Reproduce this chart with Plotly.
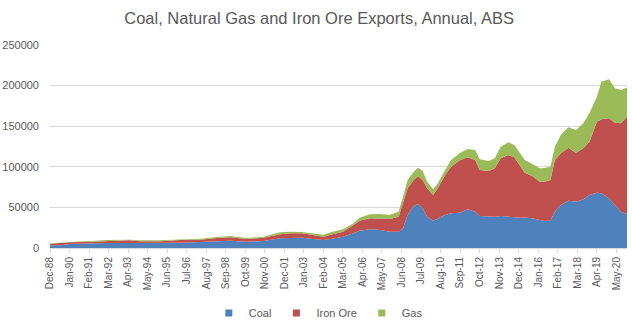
import pandas as pd
import plotly.graph_objects as go

# ---- data ----
months = ["1988-12", "1989-07", "1990-01", "1991-03", "1992-02", "1993-05", "1993-12",
          "1995-01", "1996-03", "1997-04", "1998-03", "1998-12", "1999-11", "2000-10",
          "2001-09", "2002-04", "2002-12", "2003-07", "2004-02", "2004-08", "2005-03",
          "2005-10", "2006-02", "2006-09", "2007-04", "2007-10", "2008-04", "2008-07",
          "2008-10", "2009-02", "2009-05", "2009-08", "2009-11", "2010-03", "2010-06",
          "2010-11", "2011-03", "2011-09", "2012-02", "2012-07", "2012-10", "2013-04",
          "2013-08", "2013-12", "2014-05", "2014-09", "2015-01", "2015-04", "2015-09",
          "2016-02", "2016-05", "2016-09", "2016-12", "2017-04", "2017-09", "2018-02",
          "2018-07", "2018-11", "2019-04", "2019-07", "2019-12", "2020-04", "2020-08",
          "2020-12"]

coal = [3300, 3300, 4900, 5800, 6100, 6100, 6100, 5800, 6500, 7400, 8200, 9000, 7800, 8600,
        11900, 12700, 12700, 11100, 9800, 11500, 13900, 18100, 21300, 23000, 22200, 20100,
        20100, 24200, 40600, 51700, 54200, 48900, 38500, 33600, 36600, 40600, 42700, 43500,
        47600, 44700, 39400, 38500, 38500, 39400, 38500, 37300, 37300, 37700, 36600, 34500,
        33200, 33600, 44700, 52900, 58200, 57000, 59900, 65200, 68100, 67300, 61200, 52900,
        44700, 41900]

iron_ore = [2000, 3200, 2100, 2000, 2500, 3300, 2100, 2400, 3300, 2800, 4100, 4100, 3300, 4100,
            4900, 5400, 5400, 4500, 4100, 5300, 6200, 10200, 12300, 13600, 14400, 15600,
            18400, 30800, 32900, 32000, 34400, 34800, 35000, 31600, 36900, 49300, 57300, 64800,
            64100, 63600, 56600, 56300, 59600, 71000, 76000, 74400, 62800, 55000, 52000, 47100,
            48400, 50100, 63600, 63700, 65300, 60300, 62800, 65700, 87500, 91200, 98500,
            101400, 108800, 119700]

gas = [100, 200, 400, 800, 1200, 800, 1200, 1200, 900, 1300, 1200, 1700, 1200, 1200,
       2500, 2000, 1600, 2500, 2500, 3300, 2900, 2100, 3700, 4900, 5300, 4900,
       6200, 8200, 10200, 10200, 10200, 11400, 8100, 7000, 6000, 6100, 8300, 9000,
       10200, 12300, 13200, 12300, 12300, 14400, 15700, 15100, 16500, 15600, 14800, 16500,
       16900, 16400, 16500, 22500, 25100, 28000, 30800, 34900, 30700, 46200, 48000, 42300,
       41000, 36200]

tick_labels = ["Dec-88", "Jan-90", "Feb-91", "Mar-92", "Apr-93", "May-94", "Jun-95", "Jul-96",
               "Aug-97", "Sep-98", "Oct-99", "Nov-00", "Dec-01", "Jan-03", "Feb-04", "Mar-05",
               "Apr-06", "May-07", "Jun-08", "Jul-09", "Aug-10", "Sep-11", "Oct-12", "Nov-13",
               "Dec-14", "Jan-16", "Feb-17", "Mar-18", "Apr-19", "May-20"]

series_names = ["Coal", "Iron Ore", "Gas"]
colors = ["#4F81BD", "#C0504D", "#9BBB59"]

# ---- figure ----
dates = pd.to_datetime(months, format="%Y-%m")
tickvals = pd.to_datetime(tick_labels, format="%b-%y")

fig = go.Figure()
for name, vals, col in zip(series_names, [coal, iron_ore, gas], colors):
    fig.add_trace(go.Scatter(x=dates, y=vals, name=name, mode="lines",
                             stackgroup="one", line=dict(width=0, color=col),
                             fillcolor=col, showlegend=False, hoverinfo="x+y"))
for name, col in zip(series_names, colors):
    fig.add_trace(go.Scatter(x=[None], y=[None], name=name, mode="markers",
                             marker=dict(symbol="square", size=7, color=col), showlegend=True))

grey = "#595959"

fig.update_layout(
    width=632, height=324,
    margin=dict(l=50, r=5, t=45, b=76, autoexpand=False),
    paper_bgcolor="white", plot_bgcolor="white",
    font=dict(family="Liberation Sans, Arial, sans-serif", color=grey, size=11),
    title=dict(text="Coal, Natural Gas and Iron Ore Exports, Annual, ABS",
               x=0.505, xanchor="center", y=1 - 18 / 324, yanchor="middle", yref="container",
               font=dict(family="Liberation Sans, Arial, sans-serif", size=16.5, color=grey)),
    legend=dict(orientation="h", x=0.465, xanchor="center", y=-0.32, yanchor="middle",
                font=dict(size=11, color=grey), traceorder="normal",
                itemwidth=30, tracegroupgap=0),
    showlegend=True,
)
fig.update_xaxes(type="date", range=[dates[0], dates[-1]], automargin=False,
                 tickmode="array", tickvals=tickvals, ticktext=tick_labels,
                 tickangle=-90, tickfont=dict(size=10, color=grey),
                 ticks="outside", ticklen=4, tickcolor="#D9D9D9",
                 showline=True, linecolor="#D9D9D9", linewidth=1,
                 showgrid=False, zeroline=False)
fig.update_yaxes(range=[0, 250000], tickvals=[0, 50000, 100000, 150000, 200000, 250000],
                 ticktext=["0", "50000", "100000", "150000", "200000", "250000"],
                 automargin=False,
                 tickfont=dict(size=11, color=grey), showgrid=True, gridcolor="#D9D9D9",
                 gridwidth=1, zeroline=False, ticks="", ticklabelstandoff=10)

fig.write_html("out.html")
